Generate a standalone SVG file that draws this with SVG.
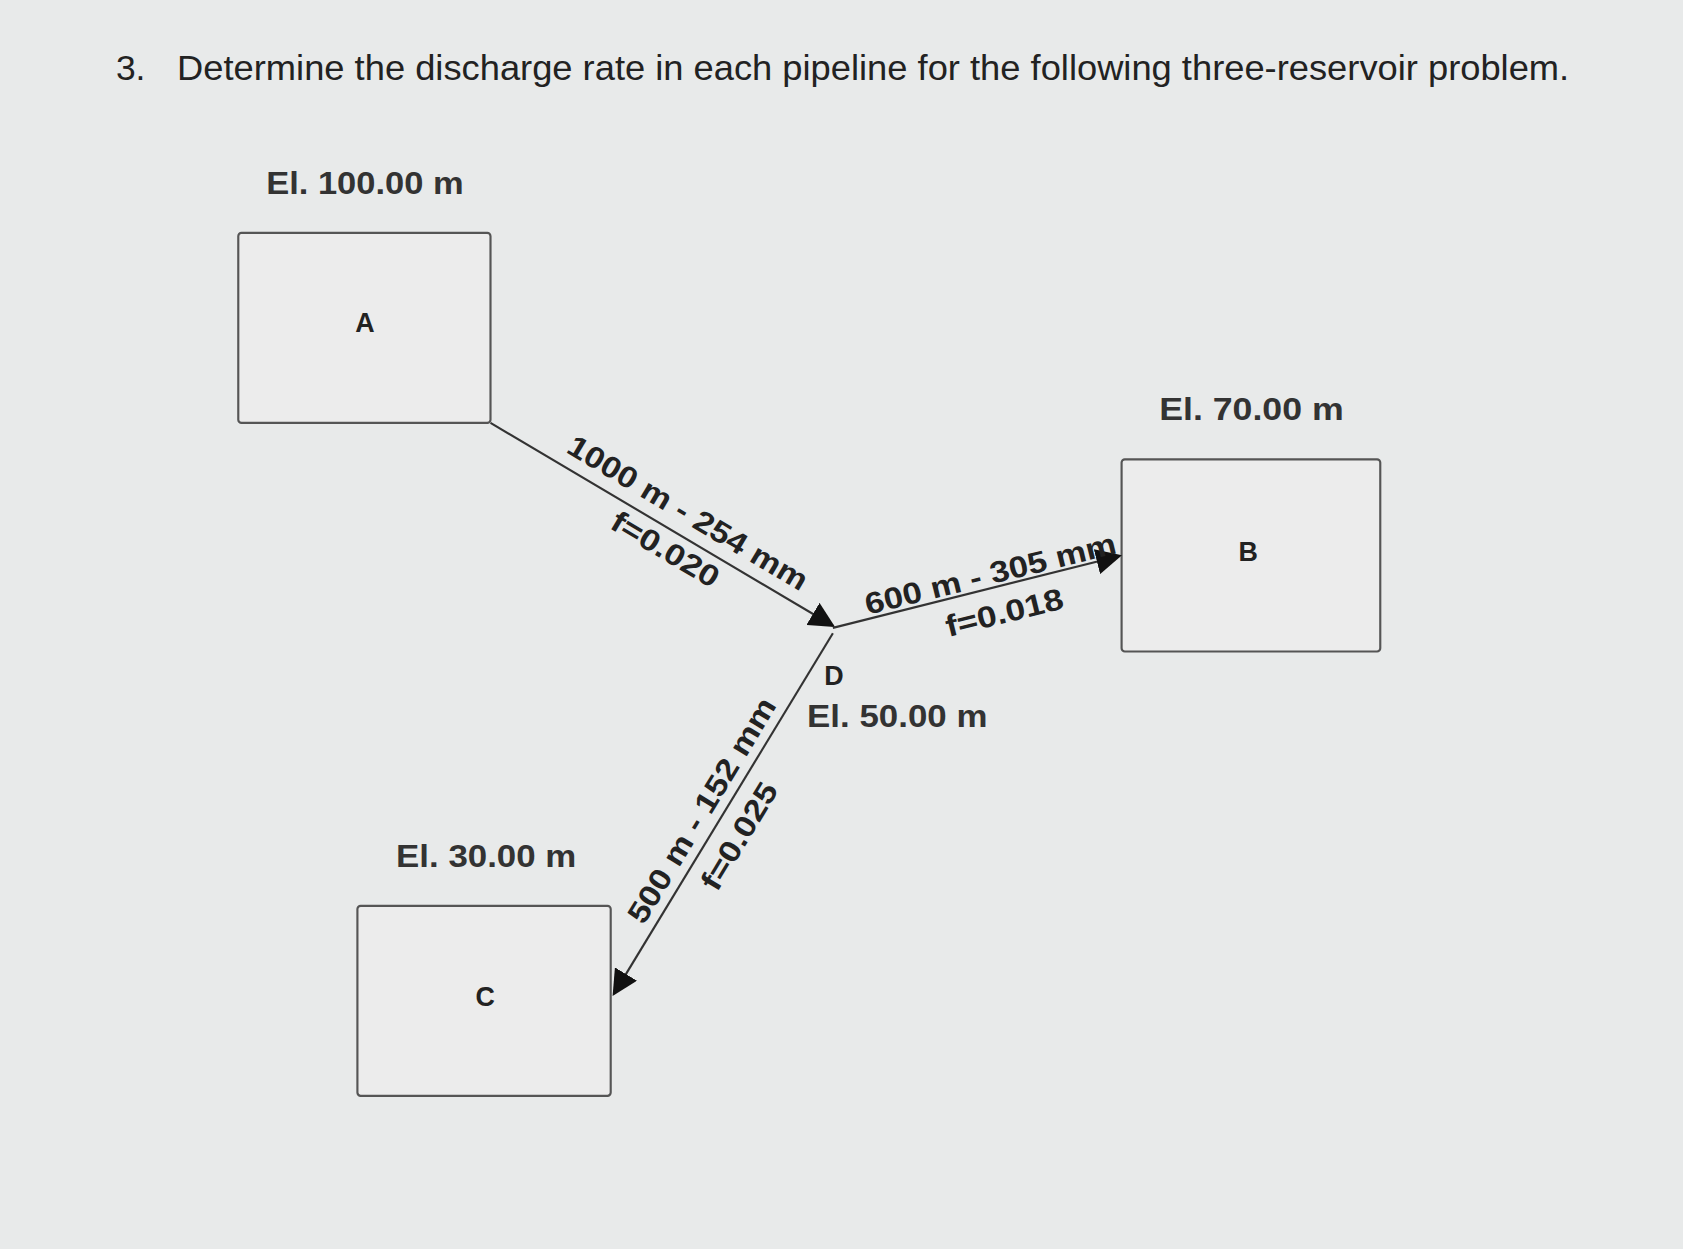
<svg xmlns="http://www.w3.org/2000/svg" width="1683" height="1249" viewBox="0 0 1683 1249">
<style>
text{font-family:"Liberation Sans",Arial,sans-serif;fill:#222}
.t{font-size:33px}
.l{font-size:30px;font-weight:bold;fill:#333}
.n{font-size:25px;font-weight:bold}
.p{font-size:28px;font-weight:bold}
.box{fill:#ececec;stroke:#555;stroke-width:2}
.ln{stroke:#333;stroke-width:2;fill:none}
</style>
<defs><marker id="a2" viewBox="0 0 10 10" refX="9" refY="5" markerWidth="24" markerHeight="24" markerUnits="userSpaceOnUse" orient="auto"><path d="M0,0L10,5L0,10z" fill="#111"/></marker></defs>
<rect width="1683" height="1249" fill="#e8eaea"/>
<g transform="scale(1.0733)">
<text class="t" x="108" y="75">3.</text>
<text class="t" x="165" y="75" textLength="1297" lengthAdjust="spacingAndGlyphs">Determine the discharge rate in each pipeline for the following three-reservoir problem.</text>
<g id="A"><rect class="box" x="222" y="217" width="235" height="177" rx="3"/><text class="n" x="340" y="309" text-anchor="middle">A</text><text class="l" x="248" y="181" textLength="184" lengthAdjust="spacingAndGlyphs">El. 100.00 m</text></g>
<g id="B"><rect class="box" x="1045" y="428" width="241" height="179" rx="3"/><text class="n" x="1163" y="523" text-anchor="middle">B</text><text class="l" x="1080" y="391" textLength="172" lengthAdjust="spacingAndGlyphs">El. 70.00 m</text></g>
<g id="C"><rect class="box" x="333" y="844" width="236" height="177" rx="3"/><text class="n" x="452" y="937" text-anchor="middle">C</text><text class="l" x="369" y="808" textLength="168" lengthAdjust="spacingAndGlyphs">El. 30.00 m</text></g>
<g id="D"><text class="n" x="777" y="638" text-anchor="middle">D</text><text class="l" x="752" y="677" textLength="168" lengthAdjust="spacingAndGlyphs">El. 50.00 m</text></g>
<g id="connectors">
<line class="ln" x1="457" y1="394" x2="776" y2="583" marker-end="url(#a2)"/>
<line class="ln" x1="776" y1="585" x2="1043" y2="518" marker-end="url(#a2)"/>
<line class="ln" x1="776" y1="590" x2="572" y2="926" marker-end="url(#a2)"/>
<text class="p" transform="translate(636,486) rotate(30.7)" text-anchor="middle" textLength="255" lengthAdjust="spacingAndGlyphs">1000 m - 254 mm</text>
<text class="p" transform="translate(615,520) rotate(30.7)" text-anchor="middle" textLength="112" lengthAdjust="spacingAndGlyphs">f=0.020</text>
<text class="p" transform="translate(925,544) rotate(-13.9)" text-anchor="middle" textLength="240" lengthAdjust="spacingAndGlyphs">600 m - 305 mm</text>
<text class="p" transform="translate(938,580) rotate(-13.9)" text-anchor="middle" textLength="112" lengthAdjust="spacingAndGlyphs">f=0.018</text>
<text class="p" transform="translate(662,760) rotate(-58.8)" text-anchor="middle" textLength="240" lengthAdjust="spacingAndGlyphs">500 m - 152 mm</text>
<text class="p" transform="translate(697,784) rotate(-58.8)" text-anchor="middle" textLength="112" lengthAdjust="spacingAndGlyphs">f=0.025</text>
</g>
</g>
</svg>
